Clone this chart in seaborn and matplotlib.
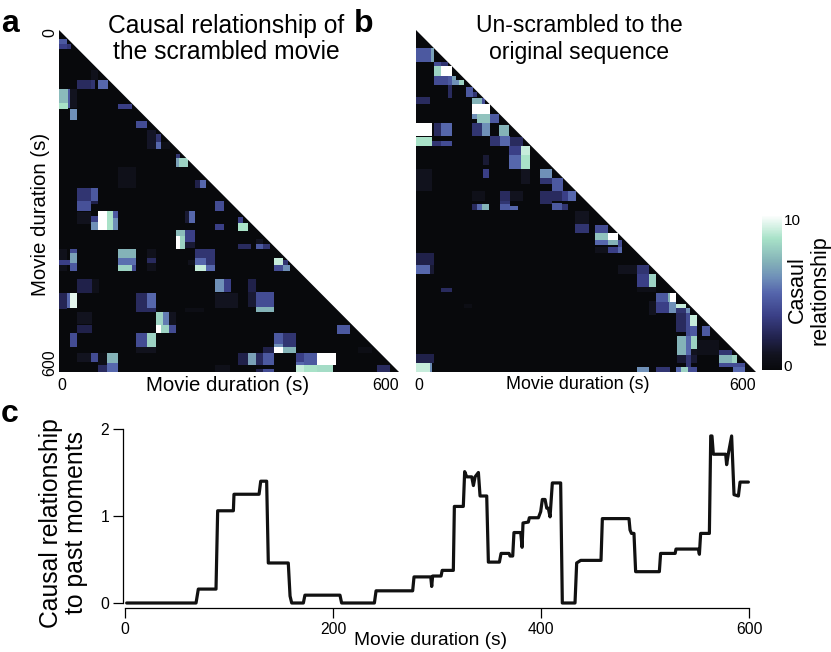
import numpy as np
import matplotlib
matplotlib.use('Agg')
import matplotlib.pyplot as plt
from matplotlib.colors import LinearSegmentedColormap
from matplotlib.patches import Polygon
import seaborn as sns

# each block: row start, row end, col start, col end (seconds), value
scrambled = [
    (15,24,0,14,4.5),(24,34,0,14,3.5),(24,34,14,22,3),
    (70,88,56,69,0.8),(88,104,33,56,2.5),(88,104,56,63,3),(87,104,68,86,5),
    (105,129,0,15,7.3),(129,138,0,15,8.5),(105,136,15,21,4.5),(105,136,21,33,1),
    (138,158,19,33,6),(130,138,103,128,3.5),(159,173,136,156,4),
    (176,209,156,171,1.2),(182,197,171,180,3),(197,209,171,180,5),(197,209,180,195,0.6),
    (218,225,206,214,3),(225,241,206,213,6.5),(225,241,213,229,8),
    (241,278,103,136,0.7),(263,278,240,247,2),(263,278,247,260,5),
    (278,300,33,56,3),(278,300,56,68,4.5),(300,318,33,56,4.2),(300,306,56,68,2),
    (320,341,33,56,0.9),(326,336,56,68,3.5),(336,350,56,68,6),
    (318,350,68,85,10),(318,350,85,95,8.5),(318,330,95,104,4.5),(330,350,95,104,6),
    (318,338,222,230,1.5),(318,338,230,240,5),(300,318,275,293,4),(340,350,275,293,3.5),
    (350,362,206,222,7.3),(362,383,206,214,10),(362,383,214,222,8),
    (350,373,222,240,3.5),(373,382,222,240,1.5),
    (385,403,0,14,0.8),(403,412,0,21,3.5),(412,422,0,14,0.7),
    (385,392,21,33,4),(392,408,21,33,6.5),(408,422,21,33,4.5),
    (384,401,103,136,7),(401,412,103,136,5.2),(412,422,103,128,8),(412,422,128,136,4),
    (384,400,157,171,0.8),(400,408,157,171,2.5),(408,422,157,171,0.8),
    (384,401,240,275,3),(401,412,240,260,5),(401,412,260,275,3),
    (412,422,240,260,9),(412,422,260,275,5),(403,412,228,240,0.8),
    (437,460,275,293,6),(437,460,293,305,3.5),(462,488,275,315,1),
    (437,462,33,58,2),(437,462,58,70,0.7),
    (462,490,0,14,2.3),(462,488,14,21,5),(462,488,21,33,9.5),
    (462,494,136,155,2.5),(462,487,155,171,5),(487,494,155,171,2.5),
    (494,518,171,184,8),(494,518,184,194,5.5),(494,518,194,206,1),
    (518,532,171,180,10),(518,532,180,194,8),(518,532,194,206,4),
    (494,516,33,58,1),(518,532,33,58,2),
    (532,556,136,155,4),(532,556,155,171,8),(556,566,136,171,0.9),(532,556,21,33,4),
    (566,582,33,56,1),(566,582,56,69,4),(566,588,69,85,0.5),
    (566,585,85,104,7),(585,604,85,104,5),(588,604,69,85,2.5),
    (588,604,275,302,0.7),(487,494,222,255,0.5),
    (328,338,315,325,3.5),(338,351,315,334,8.5),
    (375,384,315,338,2.5),(366,375,348,361,1),(375,384,348,361,4.5),(375,384,361,372,3),
    (401,412,380,396,9),(412,422,380,396,4),(412,422,396,409,6),(405,412,396,405,3),
    (436,461,334,347,2),(461,486,334,347,1.5),(461,486,347,380,4),(486,494,347,380,7),
    (518,534,490,514,4.5),(533,550,381,397,4.5),(533,557,397,418,3),(550,557,381,397,6),
    (557,566,380,397,10),(557,566,397,418,7),(557,566,361,380,2),
    (566,588,315,334,2),(566,588,334,348,6.5),(566,588,348,361,2.5),(566,588,361,380,4.5),
    (594,604,348,361,2),(594,604,361,380,4),
    (566,582,418,433,3.5),(566,587,433,457,4.5),(566,587,457,488,10),
    (582,588,418,433,5),(588,604,418,433,9),(587,604,433,457,8.5),(587,604,457,484,8.3),
    (588,604,562,584,2.5),(556,566,528,552,0.5),
]

original = [
    (31,57,0,26,4.5),(31,57,26,31,6.5),(56,65,31,44,4),(56,65,44,55,3),
    (65,80,31,43,8),(65,80,43,64,10),(80,90,64,70,6.5),
    (80,97,31,55,4),(80,97,55,64,4.5),(88,97,64,75,6),(88,97,75,84,8),
    (97,120,55,64,2.5),(99,118,88,99,4.5),(107,118,99,108,3),
    (118,130,0,25,2.5),(119,130,98,116,7),(119,130,116,122,4),
    (130,148,98,130,10),(148,155,98,108,6),(148,165,108,130,7.5),(148,165,130,146,4.5),
    (165,186,98,116,3),(165,186,116,130,6),
    (165,186,0,28,10),(165,186,32,44,2.5),(165,186,44,64,5),
    (186,203,130,147,3),(186,203,147,166,5),(188,203,166,187,2.5),(166,186,146,165,7),
    (188,203,0,27,8.5),(194,203,28,43,3),(194,203,44,64,4),
    (203,219,165,186,3.5),(203,219,186,202,9),(219,243,165,186,5),(219,243,186,202,8.5),
    (219,237,118,129,1.5),(243,259,118,129,3.5),(243,270,186,202,1),
    (243,260,218,241,6),(260,270,218,241,3),(260,282,241,259,4.5),
    (243,282,0,28,0.9),(282,300,98,122,0.7),(282,300,147,166,2.5),(282,300,166,187,1),
    (282,300,218,258,2.5),(282,300,258,269,3.5),(282,300,269,282,5),
    (306,316,98,108,2.5),(306,316,108,116,5),(306,316,116,129,7),
    (300,306,149,166,3),(306,316,149,166,4.5),(307,316,166,181,5),
    (300,306,218,240,2.5),(303,316,240,258,4.5),(306,316,258,268,3),
    (318,340,281,306,1),(341,356,281,306,3),
    (391,412,0,31,2),(412,428,0,25,5),(412,428,25,31,1.5),
    (452,460,44,64,2.5),(479,488,85,98,0.5),(569,584,0,31,2),(584,604,0,25,9),(584,604,25,28,6),
    (342,357,316,338,4),(357,368,316,338,7.5),(357,368,338,355,10),
    (368,378,316,338,5),(368,378,338,355,7),(368,380,355,364,4),
    (380,391,316,338,0.8),(380,391,338,355,3.5),(380,391,355,365,5),
    (413,428,355,390,0.9),(413,428,390,411,3),(428,450,390,411,3.5),(428,450,411,425,8),
    (450,460,390,425,0.6),
    (462,478,425,443,4.5),(462,478,443,449,7),(462,480,449,458,10),
    (476,499,411,425,1),(478,497,425,446,3.5),(478,497,446,458,6),
    (480,488,458,475,9),(488,497,458,475,3),(488,500,475,484,6),
    (497,530,458,475,2.5),(497,535,475,484,4),(500,520,484,496,9),(520,535,484,496,4.5),
    (520,536,503,518,4.5),
    (536,570,459,475,7),(536,570,475,486,5),(536,561,486,496,8),(561,570,486,496,1),
    (544,570,496,534,0.7),(570,585,459,475,1.5),(570,592,475,486,3),(570,585,486,496,1.5),
    (562,570,534,558,3),(570,584,534,558,7),(570,584,558,566,8),
    (584,592,534,566,4),(584,592,566,581,4),(592,601,561,581,5),
    (591,604,390,411,6),(592,604,423,449,3),(592,604,458,467,5),(592,604,467,481,8),(592,604,481,496,4),
]

line_t = [1.6,68.3,70.5,87.5,89.1,104.2,104.8,128.9,130.5,136.2,137.8,157,158.7,160.3,171.5,173,
          206.7,208.3,239.8,241.4,276.6,277.9,291.7,294,294.9,295.8,303.9,305,315.7,316.7,325.3,
          326.6,328.6,333.4,335,336.6,339.8,341.4,347.8,349.4,360,361.6,369.3,370.2,372.8,374,
          380.5,381.8,382.7,387.8,388.8,397.5,399.7,401.3,403.9,405.5,407,408.7,410.9,418.9,420.5,
          432.7,434.3,438.2,457.7,459,484.6,485.6,487,489.4,491,513.8,515,529,529.8,551.3,552.3,
          553.5,561.9,563.2,564.4,565.7,577.6,578.5,580.2,583.3,585.6,589.8,591.4,599.4]
line_v = [0,0,0.16,0.16,1.06,1.06,1.25,1.25,1.4,1.4,0.46,0.46,0.08,0,0,0.09,
          0.09,0,0,0.14,0.14,0.3,0.3,0.3,0.19,0.31,0.31,0.375,0.375,1.11,1.11,
          1.51,1.45,1.45,1.35,1.45,1.5,1.23,1.23,0.47,0.47,0.57,0.57,0.54,0.54,0.81,
          0.81,0.64,0.92,0.93,0.98,0.98,1.05,1.19,1.19,1.09,1.09,0.99,1.38,1.38,0,
          0,0.46,0.49,0.49,0.97,0.97,0.84,0.8,0.8,0.36,0.36,0.57,0.57,0.62,0.62,0.56,
          0.8,0.8,1.92,1.92,1.71,1.71,1.59,1.72,1.92,1.245,1.23,1.39,1.39]

line_xticks = [0, 200, 400, 600]
line_yticks = [0, 1, 2]

W, H = 831, 652
CELL = 2
N = 300

sns.set_style('ticks')
plt.rcParams['font.family'] = ['Liberation Sans', 'DejaVu Sans']
plt.rcParams['text.color'] = 'black'
plt.rcParams['axes.labelcolor'] = 'black'
plt.rcParams['xtick.color'] = 'black'
plt.rcParams['ytick.color'] = 'black'
plt.rcParams['axes.edgecolor'] = 'black'

cmap = LinearSegmentedColormap.from_list('causal', [
    (0.0, '#08090c'), (0.1, '#12131f'), (0.2, '#20214a'), (0.35, '#3a3f86'), (0.5, '#5566ac'),
    (0.6, '#6f90b8'), (0.7, '#84b2b8'), (0.85, '#a8e2c8'), (1.0, '#ffffff')])


def make_grid(blocks):
    grid = np.zeros((N, N))
    for r0, r1, c0, c1, v in blocks:
        grid[round(r0 / CELL):round(r1 / CELL), round(c0 / CELL):round(c1 / CELL)] = v
    return grid


def px_axes(left, top, right, bottom):
    return fig.add_axes([left / W, 1 - bottom / H, (right - left) / W, (bottom - top) / H])


def clip_triangle(ax):
    # only the part under the diagonal is shown
    tri = Polygon([(0, 0), (N, N), (0, N)], transform=ax.transData)
    ax.collections[0].set_clip_path(tri)


fig = plt.figure(figsize=(W / 100, H / 100), dpi=100)

ax_a = px_axes(59, 30, 399, 372)
sns.heatmap(make_grid(scrambled), cmap=cmap, vmin=0, vmax=10, cbar=False, ax=ax_a,
            xticklabels=False, yticklabels=False)
clip_triangle(ax_a)
ax_a.set_xticks([2.5, 288])
ax_a.set_xticklabels(['0', '600'], fontsize=11.5)
ax_a.set_yticks([2.5, 292])
ax_a.set_yticklabels(['0', '600'], fontsize=11.5, rotation=90, va='center')
ax_a.tick_params(length=0, pad=4)
ax_a.tick_params(axis='y', pad=1.5)
ax_a.set_xlabel('Movie duration (s)', fontsize=14.7)
ax_a.xaxis.set_label_coords(0.497, -0.012)
ax_a.xaxis.label.set_va('top')
ax_a.set_ylabel('Movie duration (s)', fontsize=14.7)
ax_a.yaxis.set_label_coords(-0.026, 0.46)

ax_b = px_axes(416, 30, 756, 372)
cax = px_axes(762, 215, 782, 370)
sns.heatmap(make_grid(original), cmap=cmap, vmin=0, vmax=10, ax=ax_b, cbar_ax=cax,
            xticklabels=False, yticklabels=False)
clip_triangle(ax_b)
ax_b.set_xticks([2.6, 288])
ax_b.set_xticklabels(['0', '600'], fontsize=11.5)
ax_b.tick_params(length=0, pad=4)
ax_b.set_xlabel('Movie duration (s)', fontsize=12.9)
ax_b.xaxis.set_label_coords(0.475, -0.012)
ax_b.xaxis.label.set_va('top')

cax.set_yticks([0.3, 9.7])
cax.set_yticklabels(['0', '10'], fontsize=11)
cax.tick_params(length=0, pad=1)
for s in cax.spines.values():
    s.set_visible(False)
fig.text(809 / W, 1 - 290 / H, 'Casaul\nrelationship', rotation=90, fontsize=15.5,
         ha='center', va='center', linespacing=1.1)

fig.text(226 / W, 1 - 39 / H, 'Causal relationship of\nthe scrambled movie', fontsize=17.7,
         ha='center', va='center', linespacing=1.15)
fig.text(579 / W, 1 - 39 / H, 'Un-scrambled to the\noriginal sequence', fontsize=16.6,
         ha='center', va='center', linespacing=1.2)

ax_c = px_axes(125, 429, 749, 603)
sns.lineplot(x=line_t, y=line_v, color='#111111', linewidth=2.3, estimator=None, ax=ax_c, clip_on=False)
ax_c.set_xlim(0, 600)
ax_c.set_ylim(0, 2)
ax_c.set_xticks(line_xticks)
ax_c.set_yticks(line_yticks)
ax_c.tick_params(labelsize=11.3, length=7, width=0.9, pad=3)
sns.despine(ax=ax_c, offset={'left': 1.5, 'bottom': 3.6})
ax_c.spines['left'].set_linewidth(0.9)
ax_c.spines['bottom'].set_linewidth(0.9)
ax_c.set_xlabel('Movie duration (s)', fontsize=13.8)
ax_c.xaxis.set_label_coords(0.49, -0.165)
ax_c.set_ylabel('Causal relationship\nto past moments', fontsize=17.8, linespacing=1.05)
ax_c.yaxis.set_label_coords(-0.06, 0.46)

for letter, x, y in [('a', 1, 24), ('b', 354, 24), ('c', 1, 414)]:
    fig.text(x / W, 1 - y / H, letter, fontsize=23, fontweight='bold', ha='left', va='center')

fig.savefig('out.png', dpi=100)
